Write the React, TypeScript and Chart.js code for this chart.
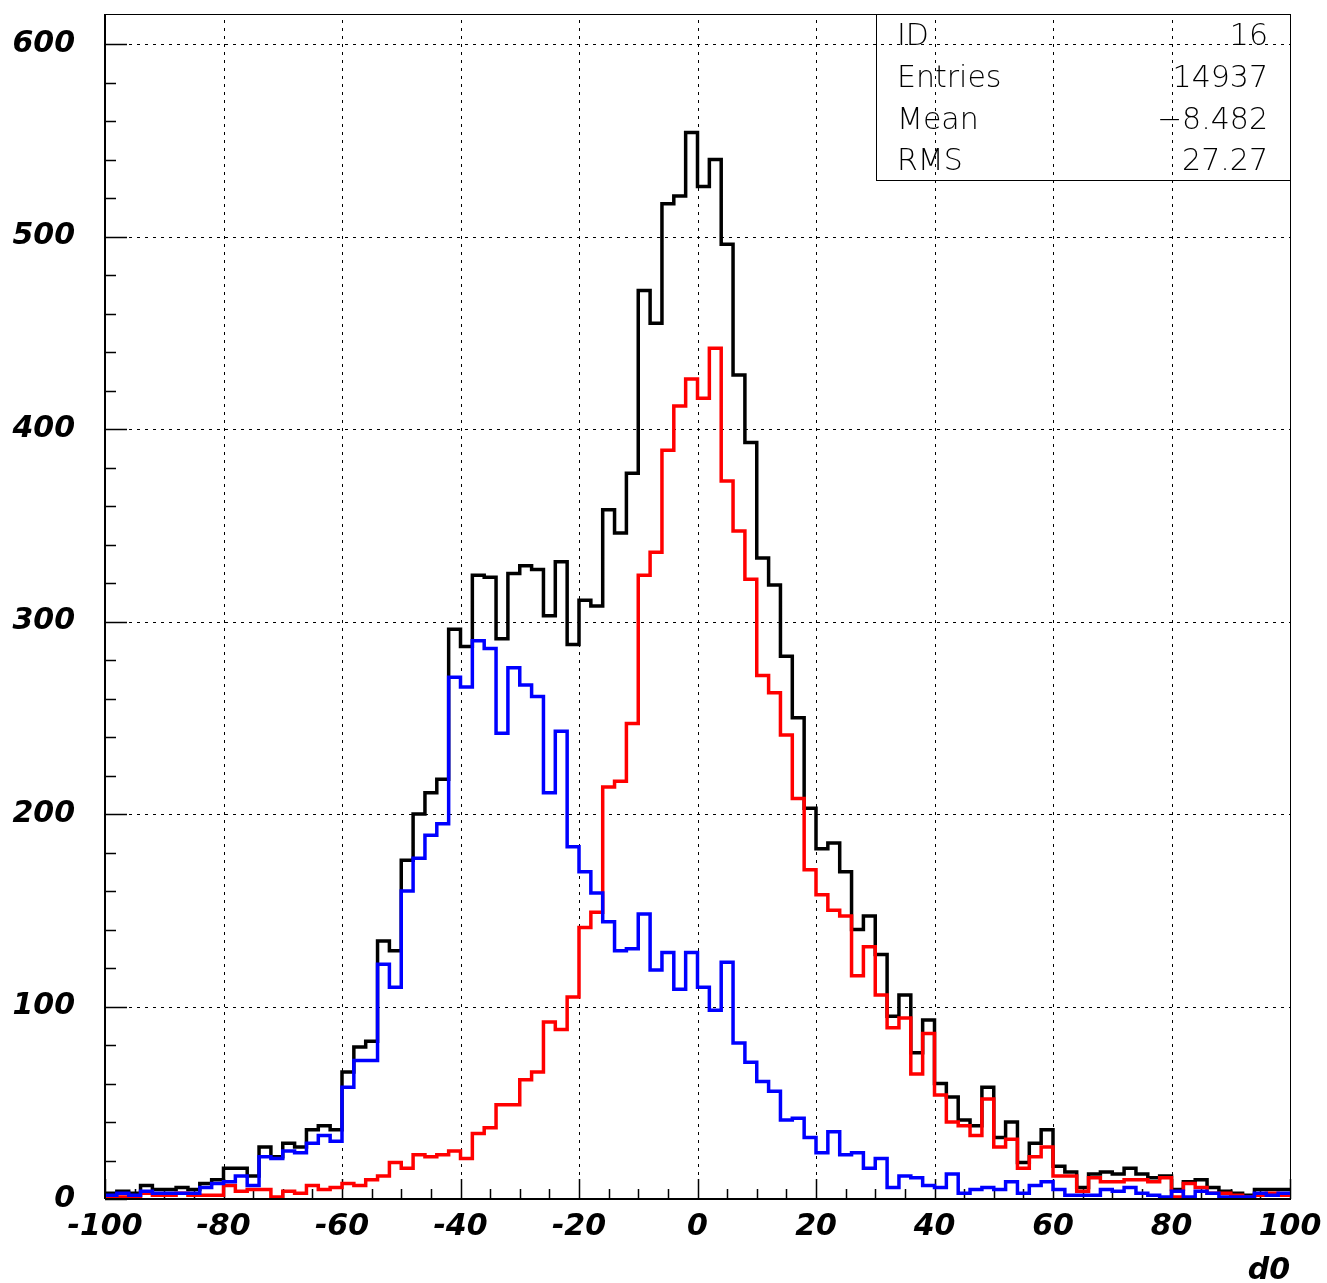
import React, { useEffect, useRef } from 'react';
import { Chart, registerables } from 'chart.js';

Chart.register(...registerables);

// ---- data ----
const xMin = -100;
const xMax = 100;
const binCount = 100;
const binEdges: number[] = Array.from({ length: binCount + 1 }, (_, i) => xMin + ((xMax - xMin) * i) / binCount);

const blackCounts = [
  3, 4, 3, 7, 5, 5, 6, 5, 8, 10,
  16, 16, 12, 27, 22, 29, 27, 36, 38, 36,
  66, 79, 82, 134, 129, 176, 200, 211, 218, 296,
  287, 324, 323, 291, 325, 329, 327, 303, 331, 288,
  311, 308, 358, 346, 377, 472, 455, 517, 521, 554,
  526, 540, 496, 428, 393, 333, 319, 282, 250, 203,
  182, 185, 170, 140, 147, 127, 95, 106, 76, 93,
  60, 53, 41, 38, 58, 32, 40, 19, 29, 36,
  17, 14, 6, 13, 14, 13, 16, 13, 11, 12,
  5, 9, 10, 6, 4, 3, 2, 5, 5, 5,
];

const redCounts = [
  1, 1, 1, 3, 2, 2, 3, 2, 2, 2,
  7, 4, 5, 5, 1, 4, 3, 7, 5, 6,
  8, 7, 10, 12, 19, 16, 23, 22, 23, 25,
  21, 34, 37, 49, 49, 62, 66, 92, 88, 105,
  141, 149, 214, 217, 247, 324, 336, 389, 412, 426,
  416, 442, 373, 347, 322, 272, 263, 241, 208, 171,
  158, 150, 147, 116, 131, 106, 89, 94, 65, 86,
  54, 40, 38, 33, 52, 27, 31, 16, 22, 27,
  12, 12, 4, 11, 9, 9, 10, 10, 9, 11,
  1, 8, 6, 3, 3, 2, 1, 2, 3, 2,
];

const blueCounts = [
  2, 3, 2, 4, 3, 3, 3, 3, 6, 8,
  9, 12, 7, 22, 21, 25, 24, 29, 33, 30,
  58, 72, 72, 122, 110, 160, 177, 189, 195, 271,
  266, 290, 286, 242, 276, 267, 261, 211, 243, 183,
  170, 159, 144, 129, 130, 148, 119, 128, 109, 128,
  110, 98, 123, 81, 71, 61, 56, 41, 42, 32,
  24, 35, 23, 24, 16, 21, 6, 12, 11, 7,
  6, 13, 3, 5, 6, 5, 9, 3, 7, 9,
  5, 2, 2, 2, 5, 4, 6, 3, 2, 1,
  4, 1, 4, 3, 1, 1, 1, 3, 2, 3,
];

const xTickValues = [-100, -80, -60, -40, -20, 0, 20, 40, 60, 80, 100];
const yTickValues = [0, 100, 200, 300, 400, 500, 600];
const yMax = 615.6;
const xAxisTitle = 'd0';
const statsLabels = ['ID', 'Entries', 'Mean', 'RMS'];
const statsValues = ['16', '14937', '\u22128.482', '27.27'];

// ---- helpers ----
function toSteps(values: number[]) {
  const pts = values.map((v, i) => ({ x: binEdges[i], y: v }));
  pts.push({ x: binEdges[values.length], y: values[values.length - 1] });
  return pts;
}

const tickFont = { family: 'DejaVu Sans', weight: 'bold' as const, style: 'italic' as const, size: 30 };

const paperPlugin = {
  id: 'paperFrame',
  beforeDatasetsDraw(chart: any) {
    const { ctx, chartArea: a, scales } = chart;
    const xs = scales.x;
    const ys = scales.y;
    ctx.save();
    // dotted grid
    ctx.strokeStyle = '#000';
    ctx.lineWidth = 1;
    ctx.setLineDash([3, 5]);
    ctx.beginPath();
    for (const v of xTickValues) {
      const px = Math.round(xs.getPixelForValue(v)) + 0.5;
      if (px <= a.left + 2 || px >= a.right - 2) continue;
      ctx.moveTo(px, a.bottom);
      ctx.lineTo(px, a.top);
    }
    for (const v of yTickValues) {
      const py = Math.round(ys.getPixelForValue(v)) + 0.5;
      if (py >= a.bottom - 2 || py <= a.top + 2) continue;
      ctx.moveTo(a.left, py);
      ctx.lineTo(a.right, py);
    }
    ctx.stroke();
    ctx.setLineDash([]);
    // inner ticks
    ctx.lineWidth = 1.5;
    ctx.beginPath();
    for (let v = xMin; v <= xMax; v += 5) {
      const px = Math.round(xs.getPixelForValue(v)) + 0.5;
      const len = Math.abs(v % 20) === 0 ? 20 : 10;
      ctx.moveTo(px, a.bottom);
      ctx.lineTo(px, a.bottom - len);
    }
    for (let v = 0; v <= 600; v += 20) {
      const py = Math.round(ys.getPixelForValue(v)) + 0.5;
      const len = v % 100 === 0 ? 22 : 11;
      ctx.moveTo(a.left, py);
      ctx.lineTo(a.left + len, py);
    }
    ctx.stroke();
    ctx.restore();
  },
  afterDatasetsDraw(chart: any) {
    const { ctx, chartArea: a } = chart;
    ctx.save();
    // frame
    ctx.strokeStyle = '#000';
    ctx.lineWidth = 1;
    ctx.strokeRect(a.left + 0.5, a.top + 0.5, a.right - a.left, a.bottom - a.top);
    ctx.lineWidth = 2;
    ctx.beginPath();
    ctx.moveTo(a.left, a.bottom);
    ctx.lineTo(a.right, a.bottom);
    ctx.moveTo(a.left, a.top);
    ctx.lineTo(a.left, a.bottom);
    ctx.stroke();
    // stats box
    const boxL = a.right - 414;
    const boxT = a.top;
    ctx.lineWidth = 1;
    ctx.strokeRect(boxL + 0.5, boxT + 0.5, 414, 166);
    ctx.font = '200 30px "DejaVu Sans"';
    ctx.fillStyle = '#000';
    ctx.textBaseline = 'middle';
    statsLabels.forEach((lab, i) => {
      const y = boxT + 23.5 + i * 41.7;
      ctx.textAlign = 'left';
      ctx.fillText(lab, boxL + 21, y);
      ctx.textAlign = 'right';
      ctx.fillText(statsValues[i], a.right - 22, y);
    });
    ctx.restore();
  },
};

export default function App() {
  const canvasRef = useRef<HTMLCanvasElement | null>(null);

  useEffect(() => {
    if (!canvasRef.current) return;
    const lineStyle = {
      borderWidth: 3.5,
      pointRadius: 0,
      pointHoverRadius: 0,
      stepped: 'before' as const,
      tension: 0,
      fill: false,
      borderJoinStyle: 'miter' as const,
      borderCapStyle: 'butt' as const,
    };
    const chart = new Chart(canvasRef.current, {
      type: 'line',
      data: {
        datasets: [
          { ...lineStyle, label: 'blue', data: toSteps(blueCounts), borderColor: '#0000ff', order: 0 },
          { ...lineStyle, label: 'red', data: toSteps(redCounts), borderColor: '#ff0000', order: 1 },
          { ...lineStyle, label: 'all', data: toSteps(blackCounts), borderColor: '#000000', order: 2 },
        ],
      },
      options: {
        responsive: false,
        animation: false,
        devicePixelRatio: 1,
        layout: { padding: { left: 0, right: 37, top: 14, bottom: 0 } },
        plugins: { legend: { display: false }, tooltip: { enabled: false }, title: { display: false } },
        scales: {
          x: {
            type: 'linear',
            min: xMin,
            max: xMax,
            grid: { display: false, drawTicks: false },
            border: { display: false },
            afterBuildTicks: (s: any) => { s.ticks = xTickValues.map((v) => ({ value: v })); },
            afterFit: (s: any) => {
              s.height = 84;
              s.paddingLeft = 0;
              s.paddingRight = 0;
              s.paddingTop = 0;
              s.paddingBottom = 0;
            },
            ticks: { color: '#000', font: tickFont, padding: 10, maxRotation: 0, autoSkip: false },
            title: {
              display: true,
              text: xAxisTitle,
              align: 'end',
              color: '#000',
              font: { ...tickFont, lineHeight: 1 },
              padding: { top: 0, bottom: -3 },
            },
          },
          y: {
            type: 'linear',
            min: 0,
            max: yMax,
            grid: { display: false, drawTicks: false },
            border: { display: false },
            afterBuildTicks: (s: any) => { s.ticks = yTickValues.map((v) => ({ value: v })); },
            afterFit: (s: any) => {
              s.width = 105;
              s.paddingLeft = 0;
              s.paddingRight = 0;
              s.paddingTop = 0;
              s.paddingBottom = 0;
            },
            ticks: { color: '#000', font: tickFont, padding: 30 },
          },
        },
      },
      plugins: [paperPlugin],
    });
    return () => chart.destroy();
  }, []);

  return (
    <div style={{ position: 'absolute', left: 0, top: 0, width: 1327, height: 1283, background: '#fff' }}>
      <canvas ref={canvasRef} width={1327} height={1283} style={{ display: 'block' }} />
    </div>
  );
}
